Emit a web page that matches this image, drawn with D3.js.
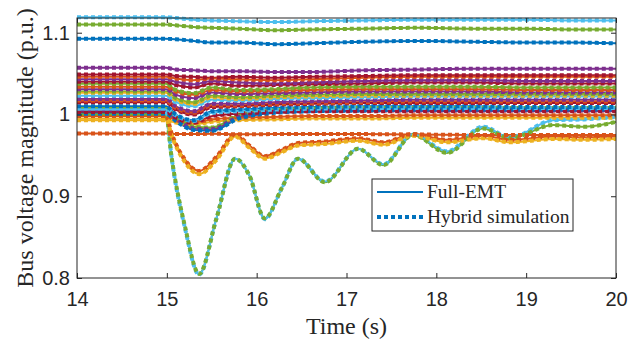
<!DOCTYPE html>
<html>
<head>
<meta charset="utf-8">
<script src="https://cdn.jsdelivr.net/npm/d3@7"></script>
<style>
  body { margin: 0; background: #fff; }
  svg { font-family: "Liberation Serif", "Times New Roman", serif; }
  .tick line { stroke: #262626; }
  .domain { stroke: none; }
  .tick text { fill: #262626; font-size: 20px; }
</style>
</head>
<body>
<svg id="chart" width="629" height="341"></svg>
<script>
// matlab default colour order
const palette = {
  blue: "#0072BD", orange: "#D95319", yellow: "#EDB120", purple: "#7E2F8E",
  green: "#77AC30", lightblue: "#4DBEEE", darkred: "#A2142F"
};

const xTicks = [14, 15, 16, 17, 18, 19, 20];
const yTicks = [0.8, 0.9, 1, 1.1];
const legendLabels = ["Full-EMT", "Hybrid simulation"];

// time knots for the (nearly) flat buses
const bandTimes = [14, 14.99, 15.1, 15.3, 15.5, 15.8, 16.2, 16.6, 17.2, 17.8, 18.4, 19, 19.5, 20];
const bandColors = [
  "lightblue", "green", "blue",
  "purple", "darkred", "orange", "purple", "darkred", "green", "orange", "purple",
  "green", "yellow", "lightblue", "purple", "orange", "darkred", "blue", "lightblue",
  "darkred", "blue", "purple", "green", "orange", "yellow", "orange"
];
const bandVoltages = [
  [1.119, 1.119, 1.118, 1.116, 1.115, 1.114, 1.113, 1.114, 1.115, 1.116, 1.116, 1.116, 1.115, 1.115],
  [1.110, 1.110, 1.109, 1.107, 1.106, 1.105, 1.103, 1.104, 1.105, 1.106, 1.105, 1.105, 1.104, 1.104],
  [1.0925, 1.0925, 1.092, 1.090, 1.088, 1.088, 1.086, 1.087, 1.089, 1.090, 1.089, 1.088, 1.088, 1.087],
  [1.057, 1.057, 1.055, 1.054, 1.053, 1.053, 1.052, 1.052, 1.054, 1.055, 1.056, 1.056, 1.056, 1.056],
  [1.049, 1.049, 1.047, 1.046, 1.045, 1.046, 1.045, 1.046, 1.047, 1.048, 1.048, 1.048, 1.048, 1.048],
  [1.046, 1.046, 1.044, 1.042, 1.044, 1.043, 1.042, 1.043, 1.045, 1.046, 1.046, 1.046, 1.046, 1.046],
  [1.043, 1.043, 1.040, 1.037, 1.041, 1.039, 1.038, 1.039, 1.041, 1.042, 1.042, 1.041, 1.041, 1.041],
  [1.040, 1.040, 1.036, 1.033, 1.038, 1.035, 1.036, 1.037, 1.038, 1.039, 1.039, 1.038, 1.038, 1.038],
  [1.0375, 1.0375, 1.030, 1.026, 1.033, 1.030, 1.031, 1.033, 1.034, 1.034, 1.034, 1.033, 1.033, 1.033],
  [1.034, 1.034, 1.028, 1.024, 1.030, 1.028, 1.029, 1.030, 1.031, 1.031, 1.031, 1.030, 1.030, 1.030],
  [1.031, 1.031, 1.024, 1.020, 1.027, 1.025, 1.026, 1.027, 1.028, 1.028, 1.028, 1.027, 1.027, 1.027],
  [1.028, 1.028, 1.020, 1.015, 1.023, 1.021, 1.023, 1.024, 1.025, 1.025, 1.025, 1.025, 1.025, 1.025],
  [1.0265, 1.0265, 1.018, 1.013, 1.021, 1.019, 1.021, 1.022, 1.023, 1.023, 1.023, 1.023, 1.023, 1.023],
  [1.023, 1.023, 1.015, 1.010, 1.018, 1.017, 1.019, 1.020, 1.021, 1.022, 1.022, 1.022, 1.022, 1.022],
  [1.019, 1.019, 1.010, 1.004, 1.013, 1.013, 1.015, 1.016, 1.017, 1.018, 1.018, 1.018, 1.018, 1.018],
  [1.017, 1.017, 1.008, 1.002, 1.011, 1.011, 1.013, 1.014, 1.015, 1.016, 1.016, 1.016, 1.016, 1.016],
  [1.015, 1.015, 1.006, 1.000, 1.009, 1.010, 1.012, 1.013, 1.014, 1.014, 1.014, 1.014, 1.014, 1.014],
  [1.010, 1.010, 1.000, 0.993, 1.004, 1.006, 1.008, 1.009, 1.010, 1.010, 1.010, 1.009, 1.009, 1.009],
  [1.007, 1.007, 0.999, 0.992, 1.002, 1.004, 1.006, 1.007, 1.008, 1.008, 1.008, 1.008, 1.008, 1.008],
  [1.003, 1.003, 0.996, 0.990, 0.998, 1.001, 1.003, 1.004, 1.004, 1.004, 1.004, 1.004, 1.004, 1.004],
  [1.001, 1.001, 0.992, 0.981, 0.980, 0.995, 1.002, 1.004, 1.005, 1.006, 1.006, 1.006, 1.006, 1.006],
  [1.005, 1.005, 0.995, 0.983, 0.982, 0.997, 1.003, 1.004, 1.005, 1.005, 1.005, 1.005, 1.005, 1.005],
  [1.008, 1.008, 0.998, 0.985, 0.984, 0.999, 1.005, 1.007, 1.008, 1.008, 1.008, 1.008, 1.008, 1.008],
  [0.998, 0.998, 0.993, 0.990, 0.994, 0.996, 0.997, 0.998, 0.998, 0.999, 0.999, 0.999, 0.999, 0.999],
  [0.993, 0.993, 0.990, 0.988, 0.991, 0.993, 0.994, 0.995, 0.995, 0.996, 0.996, 0.996, 0.996, 0.996],
  [0.9768, 0.9768, 0.976, 0.976, 0.9765, 0.9758, 0.976, 0.9762, 0.976, 0.9755, 0.975, 0.975, 0.975, 0.975]
];

// time knots for the buses that swing after the fault
const swingTimes = [14, 14.99, 15.05, 15.2, 15.36, 15.55, 15.76, 15.92, 16.09, 16.28, 16.46, 16.76,
  17.13, 17.41, 17.74, 18.12, 18.52, 18.82, 19.3, 19.65, 20];
const swingColors = ["yellow", "orange", "green", "lightblue"];
const swingVoltages = [
  [0.995, 0.995, 0.975, 0.942, 0.927, 0.944, 0.973, 0.959, 0.946, 0.954, 0.962, 0.964,
    0.968, 0.963, 0.974, 0.966, 0.971, 0.966, 0.970, 0.969, 0.970],
  [0.999, 0.999, 0.978, 0.945, 0.931, 0.948, 0.9755, 0.962, 0.949, 0.957, 0.965, 0.967,
    0.971, 0.966, 0.976, 0.969, 0.974, 0.969, 0.973, 0.972, 0.973],
  [1.000, 1.000, 0.950, 0.864, 0.805, 0.872, 0.946, 0.925, 0.873, 0.910, 0.946, 0.917,
    0.958, 0.938, 0.975, 0.953, 0.983, 0.971, 0.987, 0.985, 0.991],
  [1.006, 1.006, 0.950, 0.862, 0.804, 0.872, 0.946, 0.925, 0.872, 0.910, 0.946, 0.918,
    0.958, 0.939, 0.976, 0.955, 0.985, 0.972, 0.993, 0.994, 0.997]
];

const svg = d3.select("#chart");
const margin = { left: 77, right: 13, top: 18, bottom: 63 };
const width = 629 - margin.left - margin.right;
const height = 341 - margin.top - margin.bottom;

const x = d3.scaleLinear().domain([14, 20]).range([margin.left, margin.left + width]);
const y = d3.scaleLinear().domain([0.8, 1.118]).range([margin.top + height, margin.top]);

const series = [];
bandVoltages.forEach((vals, i) => {
  series.push({ color: palette[bandColors[i]], pts: bandTimes.map((t, j) => [t, vals[j]]) });
});
swingVoltages.forEach((vals, i) => {
  series.push({ color: palette[swingColors[i]], pts: swingTimes.map((t, j) => [t, vals[j]]) });
});

const line = d3.line()
  .x((d) => x(d[0]))
  .y((d) => y(d[1]))
  .curve(d3.curveMonotoneX);

const plot = svg.append("g");

// full-EMT solid lines first
plot.selectAll(".emt")
  .data(series)
  .enter()
  .append("path")
  .attr("class", "emt")
  .attr("fill", "none")
  .attr("stroke", (d) => d.color)
  .attr("stroke-width", 2)
  .attr("d", (d) => line(d.pts));

// hybrid dotted lines on top (reverse so green dots cover the light blue swing)
plot.selectAll(".hyb")
  .data(series.slice().reverse())
  .enter()
  .append("path")
  .attr("class", "hyb")
  .attr("fill", "none")
  .attr("stroke", (d) => d.color)
  .attr("stroke-width", 4)
  .attr("stroke-dasharray", "4,3")
  .attr("d", (d) => line(d.pts));

// axes, ticks pointing inward like matlab
svg.append("g")
  .attr("transform", `translate(0,${margin.top + height})`)
  .call(d3.axisBottom(x).tickValues(xTicks).tickSize(-5).tickPadding(14).tickFormat(d3.format("d")));
svg.append("g")
  .attr("transform", `translate(0,${margin.top})`)
  .call(d3.axisTop(x).tickValues(xTicks).tickSize(-5).tickFormat(""));
svg.append("g")
  .attr("transform", `translate(${margin.left},0)`)
  .call(d3.axisLeft(y).tickValues(yTicks).tickSize(-5).tickPadding(7).tickFormat((d) => d === 1 ? "1" : d3.format(".1f")(d)));
svg.append("g")
  .attr("transform", `translate(${margin.left + width},0)`)
  .call(d3.axisRight(y).tickValues(yTicks).tickSize(-5).tickFormat(""));

svg.append("rect")
  .attr("x", margin.left)
  .attr("y", margin.top)
  .attr("width", width)
  .attr("height", height)
  .attr("fill", "none")
  .attr("stroke", "#262626")
  .attr("stroke-width", 1);

svg.append("text")
  .attr("x", margin.left + width / 2)
  .attr("y", 334)
  .attr("text-anchor", "middle")
  .attr("font-size", 24)
  .attr("fill", "#262626")
  .text("Time (s)");

svg.append("text")
  .attr("transform", `translate(33,${margin.top + height / 2}) rotate(-90)`)
  .attr("text-anchor", "middle")
  .attr("font-size", 24)
  .attr("fill", "#262626")
  .text("Bus voltage magnitude (p.u.)");

// legend
const lg = svg.append("g").attr("transform", "translate(372,179)");
lg.append("rect")
  .attr("width", 201)
  .attr("height", 52)
  .attr("fill", "#fff")
  .attr("stroke", "#262626")
  .attr("stroke-width", 1);
legendLabels.forEach((label, i) => {
  const ly = 13 + i * 25;
  lg.append("line")
    .attr("x1", 5).attr("x2", 51)
    .attr("y1", ly).attr("y2", ly)
    .attr("stroke", palette.blue)
    .attr("stroke-width", i === 0 ? 2 : 4)
    .attr("stroke-dasharray", i === 0 ? null : "4,3");
  lg.append("text")
    .attr("x", 55)
    .attr("y", ly + 6)
    .attr("font-size", 19.5)
    .attr("fill", "#262626")
    .text(label);
});
</script>
</body>
</html>
